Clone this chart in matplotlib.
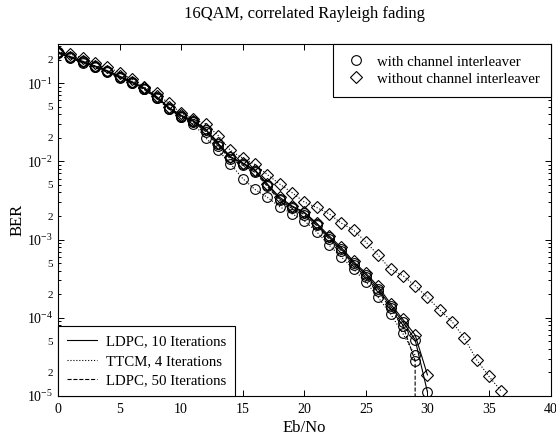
import numpy as np
import matplotlib
matplotlib.use("Agg")
import matplotlib.pyplot as plt
from matplotlib.lines import Line2D
from matplotlib.ticker import LogLocator, FuncFormatter

plt.rcParams['font.family'] = ['Liberation Serif', 'DejaVu Serif']
plt.rcParams['mathtext.fontset'] = 'stix'

# Eb/No (dB) and log10(BER)
x_ldpc10 = np.arange(0, 31)
ber_ldpc10_il = 10 ** np.array([-0.60, -0.67, -0.73, -0.79, -0.85, -0.92, -0.99, -1.07, -1.18, -1.32,
                                -1.42, -1.49, -1.60, -1.78, -1.95, -2.03, -2.12, -2.30, -2.48, -2.58,
                                -2.66, -2.80, -2.97, -3.12, -3.30, -3.45, -3.63, -3.85, -4.05, -4.28, -4.95])
x_ldpc10_noil = np.arange(0, 31)
ber_ldpc10_noil = 10 ** np.array([-0.62, -0.66, -0.72, -0.78, -0.84, -0.91, -0.98, -1.06, -1.17, -1.31,
                                  -1.41, -1.48, -1.59, -1.77, -1.94, -2.02, -2.11, -2.29, -2.46, -2.57,
                                  -2.65, -2.79, -2.95, -3.10, -3.28, -3.43, -3.60, -3.82, -4.02, -4.22, -4.73])
x_ldpc50 = np.array([0, 1, 2, 3, 4, 5, 6, 7, 8, 9, 10, 11, 12, 13, 14, 15, 16, 17, 18, 19,
                     20, 21, 22, 23, 24, 25, 26, 27, 28, 29, 29])
ber_ldpc50 = 10 ** np.array([-0.61, -0.68, -0.74, -0.80, -0.86, -0.93, -1.00, -1.08, -1.19, -1.33,
                             -1.43, -1.50, -1.62, -1.80, -1.97, -2.05, -2.14, -2.32, -2.50, -2.60,
                             -2.68, -2.82, -2.99, -3.14, -3.32, -3.48, -3.66, -3.88, -4.10, -4.55, -7.0])
x_ttcm_il = np.arange(0, 30)
ber_ttcm_il = 10 ** np.array([-0.60, -0.66, -0.72, -0.78, -0.85, -0.92, -1.00, -1.08, -1.19, -1.33,
                              -1.43, -1.52, -1.70, -1.86, -2.03, -2.22, -2.36, -2.46, -2.58, -2.67,
                              -2.76, -2.90, -3.07, -3.22, -3.38, -3.54, -3.74, -3.95, -4.20, -4.48])
x_ttcm_noil = np.arange(0, 37)
ber_ttcm_noil = 10 ** np.array([-0.60, -0.63, -0.68, -0.74, -0.79, -0.87, -0.95, -1.05, -1.13, -1.26,
                                -1.38, -1.46, -1.52, -1.67, -1.86, -1.96, -2.04, -2.17, -2.29, -2.40,
                                -2.52, -2.59, -2.67, -2.79, -2.88, -3.03, -3.20, -3.38, -3.46, -3.59,
                                -3.74, -3.90, -4.05, -4.26, -4.54, -4.75, -4.94])

fig = plt.figure(figsize=(5.56, 4.40), dpi=100)
ax = fig.add_axes([0.1043, 0.10, 0.8860, 0.80])

mk = dict(mfc="none", mec="k", mew=0.8, color="k", lw=0.8)
ax.semilogy(x_ttcm_noil, ber_ttcm_noil, "D:", ms=6, **mk)
ax.semilogy(x_ttcm_il, ber_ttcm_il, "o:", ms=7, **mk)
ax.semilogy(x_ldpc10_noil, ber_ldpc10_noil, "D-", ms=6, **mk)
ax.semilogy(x_ldpc10, ber_ldpc10_il, "o-", ms=7, **mk)
ax.semilogy(x_ldpc50, ber_ldpc50, "o--", ms=7, **mk)

ax.set_xlim(0, 40)
ax.set_ylim(1e-5, 10 ** -0.5)
ax.set_xticks(np.arange(0, 41, 5))
ax.yaxis.set_major_locator(LogLocator(base=10, numticks=10))
ax.yaxis.set_minor_locator(LogLocator(base=10, subs=np.arange(2, 10), numticks=20))

def minor_fmt(v, pos):
    m = v / 10 ** np.floor(np.log10(v) + 1e-9)
    if abs(m - 2) < 0.01:
        return "2"
    if abs(m - 5) < 0.01:
        return "5"
    return ""

ax.yaxis.set_minor_formatter(FuncFormatter(minor_fmt))
ax.tick_params(which="both", direction="in", top=True, right=True, width=0.7)
ax.tick_params(which="major", length=4, labelsize=10)
ax.tick_params(which="minor", length=2, labelsize=8)
ax.tick_params(axis="x", which="minor", top=False, bottom=False)
ax.tick_params(axis="x", pad=5)
for s in ax.spines.values():
    s.set_linewidth(0.8)

ax.set_xlabel("Eb/No", fontsize=12, labelpad=3)
ax.set_ylabel("BER", fontsize=12, labelpad=1)
ax.set_title("16QAM, correlated Rayleigh fading", fontsize=12, pad=19)

h1 = [Line2D([], [], marker="o", ls="none", mfc="none", mec="k", ms=7, mew=0.8),
      Line2D([], [], marker="D", ls="none", mfc="none", mec="k", ms=6, mew=0.8)]
leg1 = ax.legend(h1, ["with channel interleaver", "without channel interleaver"],
                 loc="upper right", bbox_to_anchor=(1, 1), borderaxespad=0, fontsize=10.7,
                 fancybox=False, edgecolor="k", framealpha=1, handlelength=1.6,
                 handletextpad=0.6, labelspacing=0.25, borderpad=0.75)
leg1.get_frame().set_linewidth(0.8)
ax.add_artist(leg1)

h2 = [Line2D([], [], color="k", ls="-", lw=0.8),
      Line2D([], [], color="k", ls=":", lw=0.8),
      Line2D([], [], color="k", ls="--", lw=0.8)]
leg2 = ax.legend(h2, ["LDPC, 10 Iterations", "TTCM, 4 Iterations", "LDPC, 50 Iterations"],
                 loc="lower left", bbox_to_anchor=(0, 0), borderaxespad=0, fontsize=10.7,
                 fancybox=False, edgecolor="k", framealpha=1, handlelength=2.0,
                 handletextpad=0.6, labelspacing=0.4, borderpad=0.6)
leg2.get_frame().set_linewidth(0.8)

fig.savefig("out.png", dpi=100)
